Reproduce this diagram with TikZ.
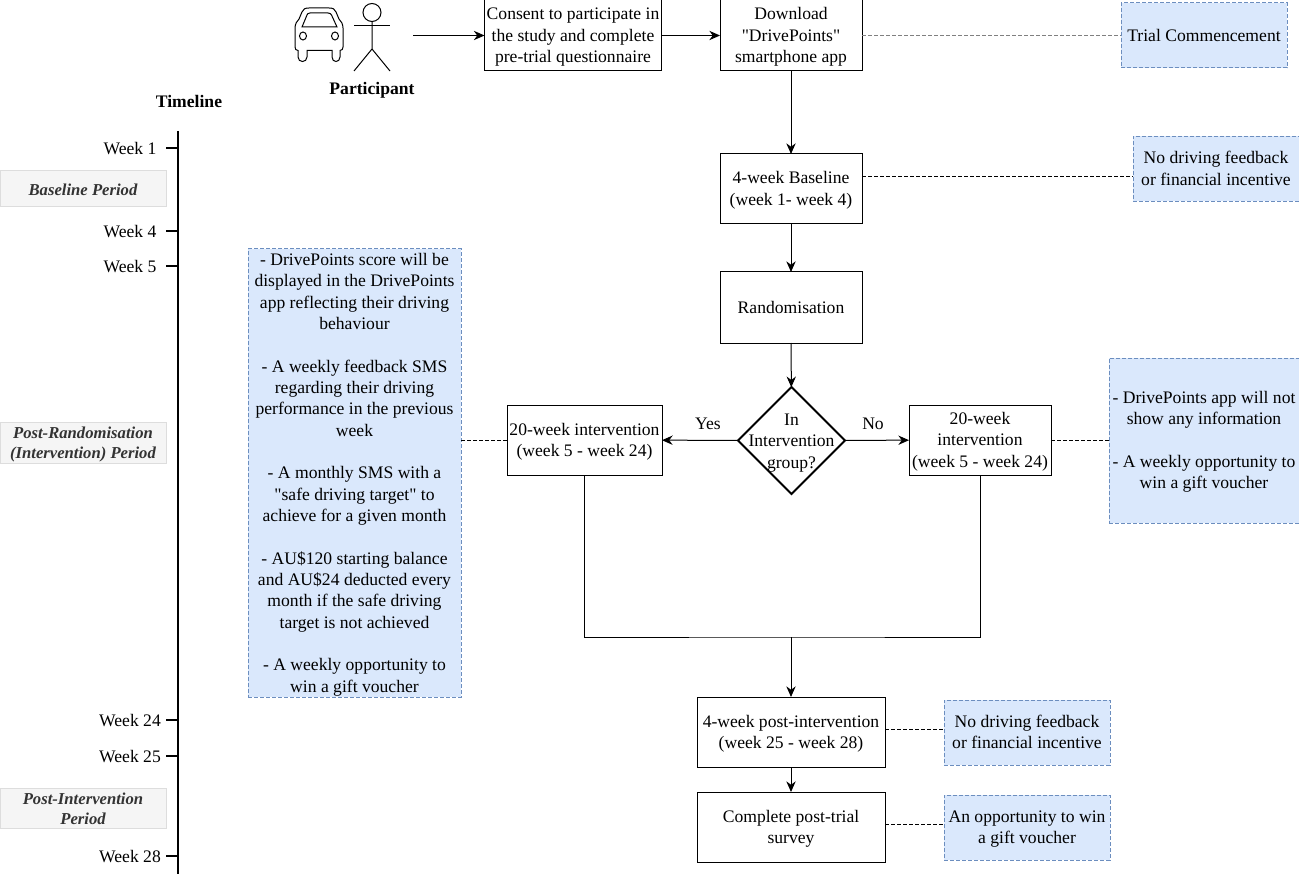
\documentclass[tikz,border=0pt]{standalone}
\usepackage{fontspec}
\setmainfont{Liberation Serif}[Ligatures=TeXOff]
\usetikzlibrary{shapes.geometric,arrows.meta}

\definecolor{noteblue}{HTML}{DAE8FC}
\definecolor{noteline}{HTML}{6C8EBF}
\definecolor{periodgrey}{HTML}{F5F5F5}
\definecolor{periodline}{HTML}{DDDDDD}
\definecolor{periodtext}{HTML}{333333}

\newcommand{\bodyfont}{\fontsize{13.2}{16}\selectfont}
% pushes the lines of a block down a little
\newcommand{\firstline}{\rule{0pt}{12pt}}

\tikzset{
  size/.style 2 args={minimum width=#1*0.75pt, minimum height=#2*0.75pt},
  every node/.append style={execute at begin node=\rule{0pt}{13pt}, execute at end node=\rule[-3.5pt]{0pt}{3.5pt}},
  stepbox/.style={draw=black, line width=0.75pt, align=center, inner sep=0pt, outer sep=0pt},
  notebox/.style={draw=noteline, fill=noteblue, line width=0.75pt, dash pattern=on 3pt off 1.5pt, align=center, inner sep=0pt, outer sep=0pt},
  periodbox/.style={draw=periodline, fill=periodgrey, line width=0.75pt, align=center, inner sep=0pt, text=periodtext, font=\fontsize{12.5}{15}\selectfont\bfseries\itshape},
  arrowline/.style={line width=0.75pt, -{Stealth[length=8pt,width=7pt]}},
  notelink/.style={line width=0.75pt, dash pattern=on 3pt off 1.5pt}
}

\begin{document}
\begin{tikzpicture}[x=0.75pt, y=-0.75pt, line width=0.75pt, font=\bodyfont]
\useasboundingbox (0,0) rectangle (1299,877);

% Timeline axis
\draw[line width=1.5pt] (178,131) -- (178,874);
\node[font=\bodyfont\bfseries] (timeline) at (189,101) {Timeline};

% Week ticks and labels
\foreach \ypos/\week in {148/1, 231/4, 266/5, 720/24, 756/25, 856/28}
{
  \draw[line width=1.5pt] (166,\ypos) -- (178,\ypos);
  \node (week\week) at (130,\ypos) {Week \week};
}

% Period labels
\node[periodbox, size={166}{36}] (baseperiod) at (83,189) {Baseline Period};
\node[periodbox, size={166}{36}] (randperiod) at (83,443) {\firstline Post-Randomisation\\(Intervention) Period};
\node[periodbox, size={166}{36}] (postperiod) at (83,808.5) {\firstline Post-Intervention\\Period};

% Participant icons
\draw (295,28) .. controls (295,24) and (297,21) .. (299,19)
  -- (302,12) .. controls (303,9) and (305,8) .. (309,8)
  -- (329,8) .. controls (333,8) and (335,9) .. (336,12)
  -- (339,19) .. controls (341,21) and (343,24) .. (343,28)
  -- (343,47) .. controls (343,49) and (342,50.5) .. (340,50.5)
  -- (340,57) .. controls (340,63) and (332,63) .. (332,57)
  -- (332,50.5) -- (307,50.5) -- (307,57)
  .. controls (307,63) and (298,63) .. (298,57)
  -- (298,50.5) .. controls (296,50.5) and (295,49) .. (295,47) -- cycle;
\draw (302,27) -- (307,15) .. controls (307.5,14) and (308,13) .. (310,13)
  -- (328,13) .. controls (330,13) and (331,14) .. (331.5,15) -- (337,27) -- cycle;
\draw (303,36) circle[x radius=3.5, y radius=4];
\draw (335,36) circle[x radius=3.5, y radius=4];
\draw (372,12.5) circle[radius=9];
\draw (372,21.5) -- (372,49) -- (354,71);
\draw (372,49) -- (390,71);
\draw (354,26) -- (390,26);
\node[font=\bodyfont\bfseries] (participant) at (372,88) {Participant};
\coordinate (start) at (413,35.5);

% Flow boxes
\node[stepbox, size={177}{71}] (consent) at (573,35.5) {\firstline Consent to participate in\\the study and complete\\pre-trial questionnaire};
\node[stepbox, size={142}{71}] (download) at (791,35.5) {\firstline Download\\"DrivePoints"\\smartphone app};
\node[stepbox, size={142}{70}] (baseline) at (791,189) {\firstline 4-week Baseline\\(week 1- week 4)};
\node[stepbox, size={142}{71}] (randomise) at (791,307.5) {Randomisation};
\node[stepbox, diamond, line width=1.5pt, size={107}{107}] (group) at (791.5,440.5) {};
\node[align=center] (grouptext) at (791.5,441) {\firstline In\\Intervention\\group?};
\node[stepbox, size={155}{70}] (intleft) at (584.5,440) {\firstline 20-week intervention\\(week 5 - week 24)};
\node[stepbox, size={142}{70}] (intright) at (980,440) {\firstline 20-week\\intervention\\(week 5 - week 24)};
\node[stepbox, size={188}{70}] (postint) at (791,732) {\firstline 4-week post-intervention\\(week 25 - week 28)};
\node[stepbox, size={188}{70}] (survey) at (791,827) {\firstline Complete post-trial\\survey};

% Notes
\node[notebox, size={166}{65}] (trialnote) at (1204,35.5) {Trial Commencement};
\node[notebox, size={166}{65}] (basenote) at (1216,169) {\firstline No driving feedback\\or financial incentive};
\node[notebox, size={213}{448}] (leftnote) at (354.5,473) {\firstline - DrivePoints score will be\\displayed in the DrivePoints\\app reflecting their driving\\behaviour\\[16pt]- A weekly feedback SMS\\regarding their driving\\performance in the previous\\week\\[16pt]- A monthly SMS with a\\"safe driving target" to\\achieve for a given month\\[16pt]- AU\$120 starting balance\\and AU\$24 deducted every\\month if the safe driving\\target is not achieved\\[16pt]- A weekly opportunity to\\win a gift voucher};
\node[notebox, size={190}{165}] (rightnote) at (1204,440.5) {\firstline - DrivePoints app will not\\show any information\\[16pt]- A weekly opportunity to\\win a gift voucher};
\node[notebox, size={166}{65}] (postnote) at (1027,732.5) {\firstline No driving feedback\\or financial incentive};
\node[notebox, size={166}{65}] (surveynote) at (1027,827.5) {\firstline An opportunity to win\\a gift voucher};

% Arrows
\draw[arrowline] (start) -- (consent);
\draw[arrowline] (consent) -- (download);
\draw[arrowline] (download) -- (baseline);
\draw[arrowline] (baseline) -- (randomise);
\draw[arrowline] (randomise) -- (group);
\draw[arrowline] (group) -- (intleft);
\draw[arrowline] (group) -- (intright);
\draw[arrowline] (postint) -- (survey);

% Merge below the two arms
\coordinate (merge) at (791,637);
\draw (intleft.south) |- (merge) -| (intright.south);
\draw[arrowline] (merge) -- (postint);

\node (yes) at (708,423) {Yes};
\node (no) at (873,423) {No};

% Dashed links to the notes
\coordinate (baselink) at (791,177);
\coordinate (postlink) at (791,729);
\coordinate (surveylink) at (791,824);
\draw[notelink, draw=black!50] (download) -- (trialnote);
\draw[notelink] (baselink -| baseline.east) -- (baselink -| basenote.west);
\draw[notelink] (intleft) -- (leftnote.east |- intleft);
\draw[notelink] (intright) -- (rightnote.west |- intright);
\draw[notelink] (postlink -| postint.east) -- (postlink -| postnote.west);
\draw[notelink] (surveylink -| survey.east) -- (surveylink -| surveynote.west);

\end{tikzpicture}
\end{document}
